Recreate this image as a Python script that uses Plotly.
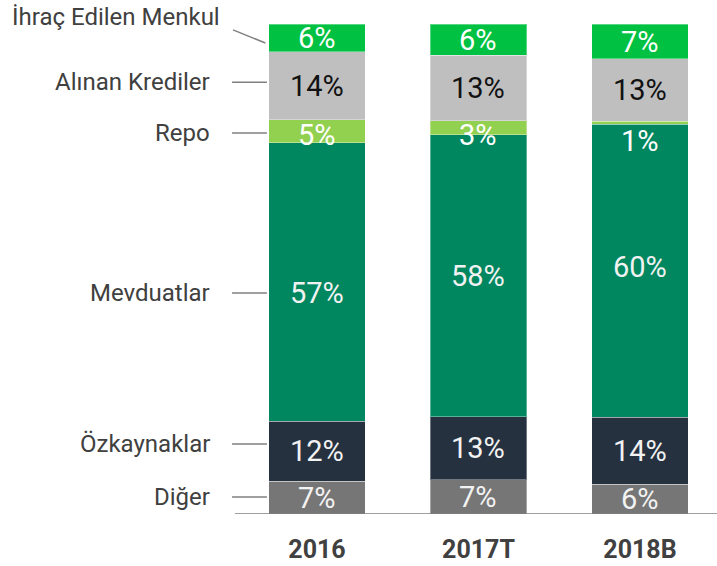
import plotly.graph_objects as go

categories = ["2016", "2017T", "2018B"]
series_names = ["Diğer", "Özkaynaklar", "Mevduatlar", "Repo", "Alınan Krediler", "İhraç Edilen Menkul"]
diger = [6.7, 7.0, 6.1]
ozkaynaklar = [12.3, 12.9, 13.7]
mevduatlar = [56.9, 57.6, 59.9]
repo = [4.7, 2.9, 0.6]
alinan_krediler = [13.9, 13.4, 12.8]
ihrac_menkul = [5.6, 6.3, 7.0]

series_values = [diger, ozkaynaklar, mevduatlar, repo, alinan_krediler, ihrac_menkul]
colors = ["#767676", "#263140", "#00875F", "#92D050", "#BFBFBF", "#00C141"]
text_colors = ["#F2F2F2", "#F2F2F2", "#F2F2F2", "#FFFFFF", "#111111", "#FFFFFF"]

NUM_FONT = "Roboto, Liberation Sans, sans-serif"

fig = go.Figure()
for name, vals, col in zip(series_names, series_values, colors):
    fig.add_trace(go.Bar(
        x=categories, y=vals, name=name,
        marker=dict(color=col, line=dict(color="rgba(255,255,255,0.35)", width=1)),
        width=0.6, hoverinfo="skip",
    ))

# segment labels (pixel nudges per category)
label_shift = {"Repo": [-4, -7, -18], "Mevduatlar": [-11, 0, 4]}
annotations = []
base = [0.0] * len(categories)
for si, vals in enumerate(series_values):
    for ci, v in enumerate(vals):
        center = base[ci] + v / 2
        ys = label_shift.get(series_names[si], [0, 0, 0])[ci]
        annotations.append(dict(
            x=ci, y=center, xref="x", yref="y", text=f"{round(v)}%",
            showarrow=False, yshift=ys,
            font=dict(family=NUM_FONT, size=29, color=text_colors[si]),
        ))
        base[ci] += v

# left series labels with leader lines (positions in % units)
label_y = [3.5, 14.3, 45.2, 77.9, 88.3]
shapes = []
for name, ly in zip(series_names[:5], label_y):
    annotations.append(dict(
        x=-0.65, y=ly, xref="x", yref="y", text=name, showarrow=False,
        xanchor="right", yanchor="middle",
        font=dict(family=NUM_FONT, size=24, color="#404040"),
    ))
    shapes.append(dict(type="line", xref="x", yref="y", x0=-0.526, x1=-0.31,
                       y0=ly, y1=ly, line=dict(color="#7F7F7F", width=1.5)))
annotations.append(dict(
    x=-0.588, y=101.6, xref="x", yref="y", text=series_names[5], showarrow=False,
    xanchor="right", yanchor="middle",
    font=dict(family=NUM_FONT, size=24, color="#404040"),
))
shapes.append(dict(type="line", xref="x", yref="y", x0=-0.52, x1=-0.32,
                   y0=99.0, y1=96.3, line=dict(color="#7F7F7F", width=1.5)))
# axis baseline
shapes.append(dict(type="line", xref="x", yref="y", x0=-0.508, x1=2.5,
                   y0=0, y1=0, line=dict(color="#7F7F7F", width=1.5)))

fig.update_layout(
    barmode="stack",
    width=717, height=566,
    margin=dict(l=0, r=0, t=0, b=52),
    paper_bgcolor="white", plot_bgcolor="white",
    showlegend=False,
    annotations=annotations,
    shapes=shapes,
    xaxis=dict(range=[-1.963, 2.477], showgrid=False, zeroline=False, showline=False,
               ticks="", ticklabelstandoff=18, automargin=False,
               tickfont=dict(family=NUM_FONT, size=25, color="#404040", weight="bold")),
    yaxis=dict(range=[0, 105.1], showgrid=False, zeroline=False, showline=False,
               showticklabels=False, ticks="", automargin=False),
)

fig.write_html("out.html", config={"displayModeBar": False},
               post_script="document.body.style.margin='0';document.body.style.overflow='hidden';")
